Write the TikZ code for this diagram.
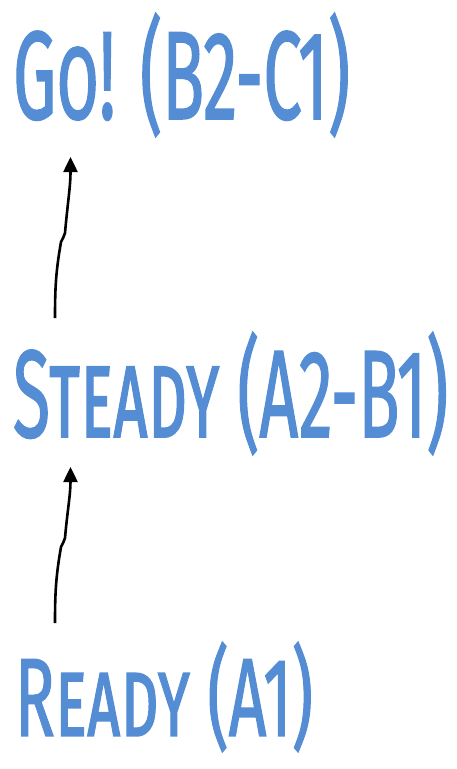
\documentclass[tikz,border=0pt]{standalone}
\usepackage{fontspec}
\usepackage{graphicx}
\usetikzlibrary{arrows.meta}
\newfontfamily\handfont[FakeBold=1.5]{Fira Sans}
\definecolor{chalkblue}{RGB}{84,141,212}
\begin{document}
\begin{tikzpicture}[x=1pt, y=-1pt,
  every node/.style={inner sep=0pt, outer sep=0pt, anchor=north west, text=chalkblue, font=\handfont},
  arrow/.style={-{Triangle[width=14pt,length=15pt]}, line width=2.6pt}
]
\useasboundingbox (0,0) rectangle (456,769);
\node (go) at (13,13) {\resizebox*{337pt}{124pt}{\textsc{Go! (B2-C1)}}};
\node (steady) at (13,332) {\resizebox*{435pt}{123pt}{\textsc{Steady (A2-B1)}}};
\node (ready) at (15,642) {\resizebox*{298pt}{110pt}{\textsc{Ready (A1)}}};

\draw[arrow] ([shift={(40pt,19pt)}]ready.north west) to[out=90,in=-100] ++(6pt,76pt)
  to[out=70,in=-100] ++(4pt,9pt) to[out=85,in=-90] ([shift={(57.5pt,-12pt)}]steady.south west);
\draw[arrow] ([shift={(42pt,14pt)}]steady.north west) to[out=90,in=-100] ++(6pt,76pt)
  to[out=70,in=-100] ++(4pt,9pt) to[out=85,in=-90] ([shift={(57.5pt,-20pt)}]go.south west);
\end{tikzpicture}
\end{document}
